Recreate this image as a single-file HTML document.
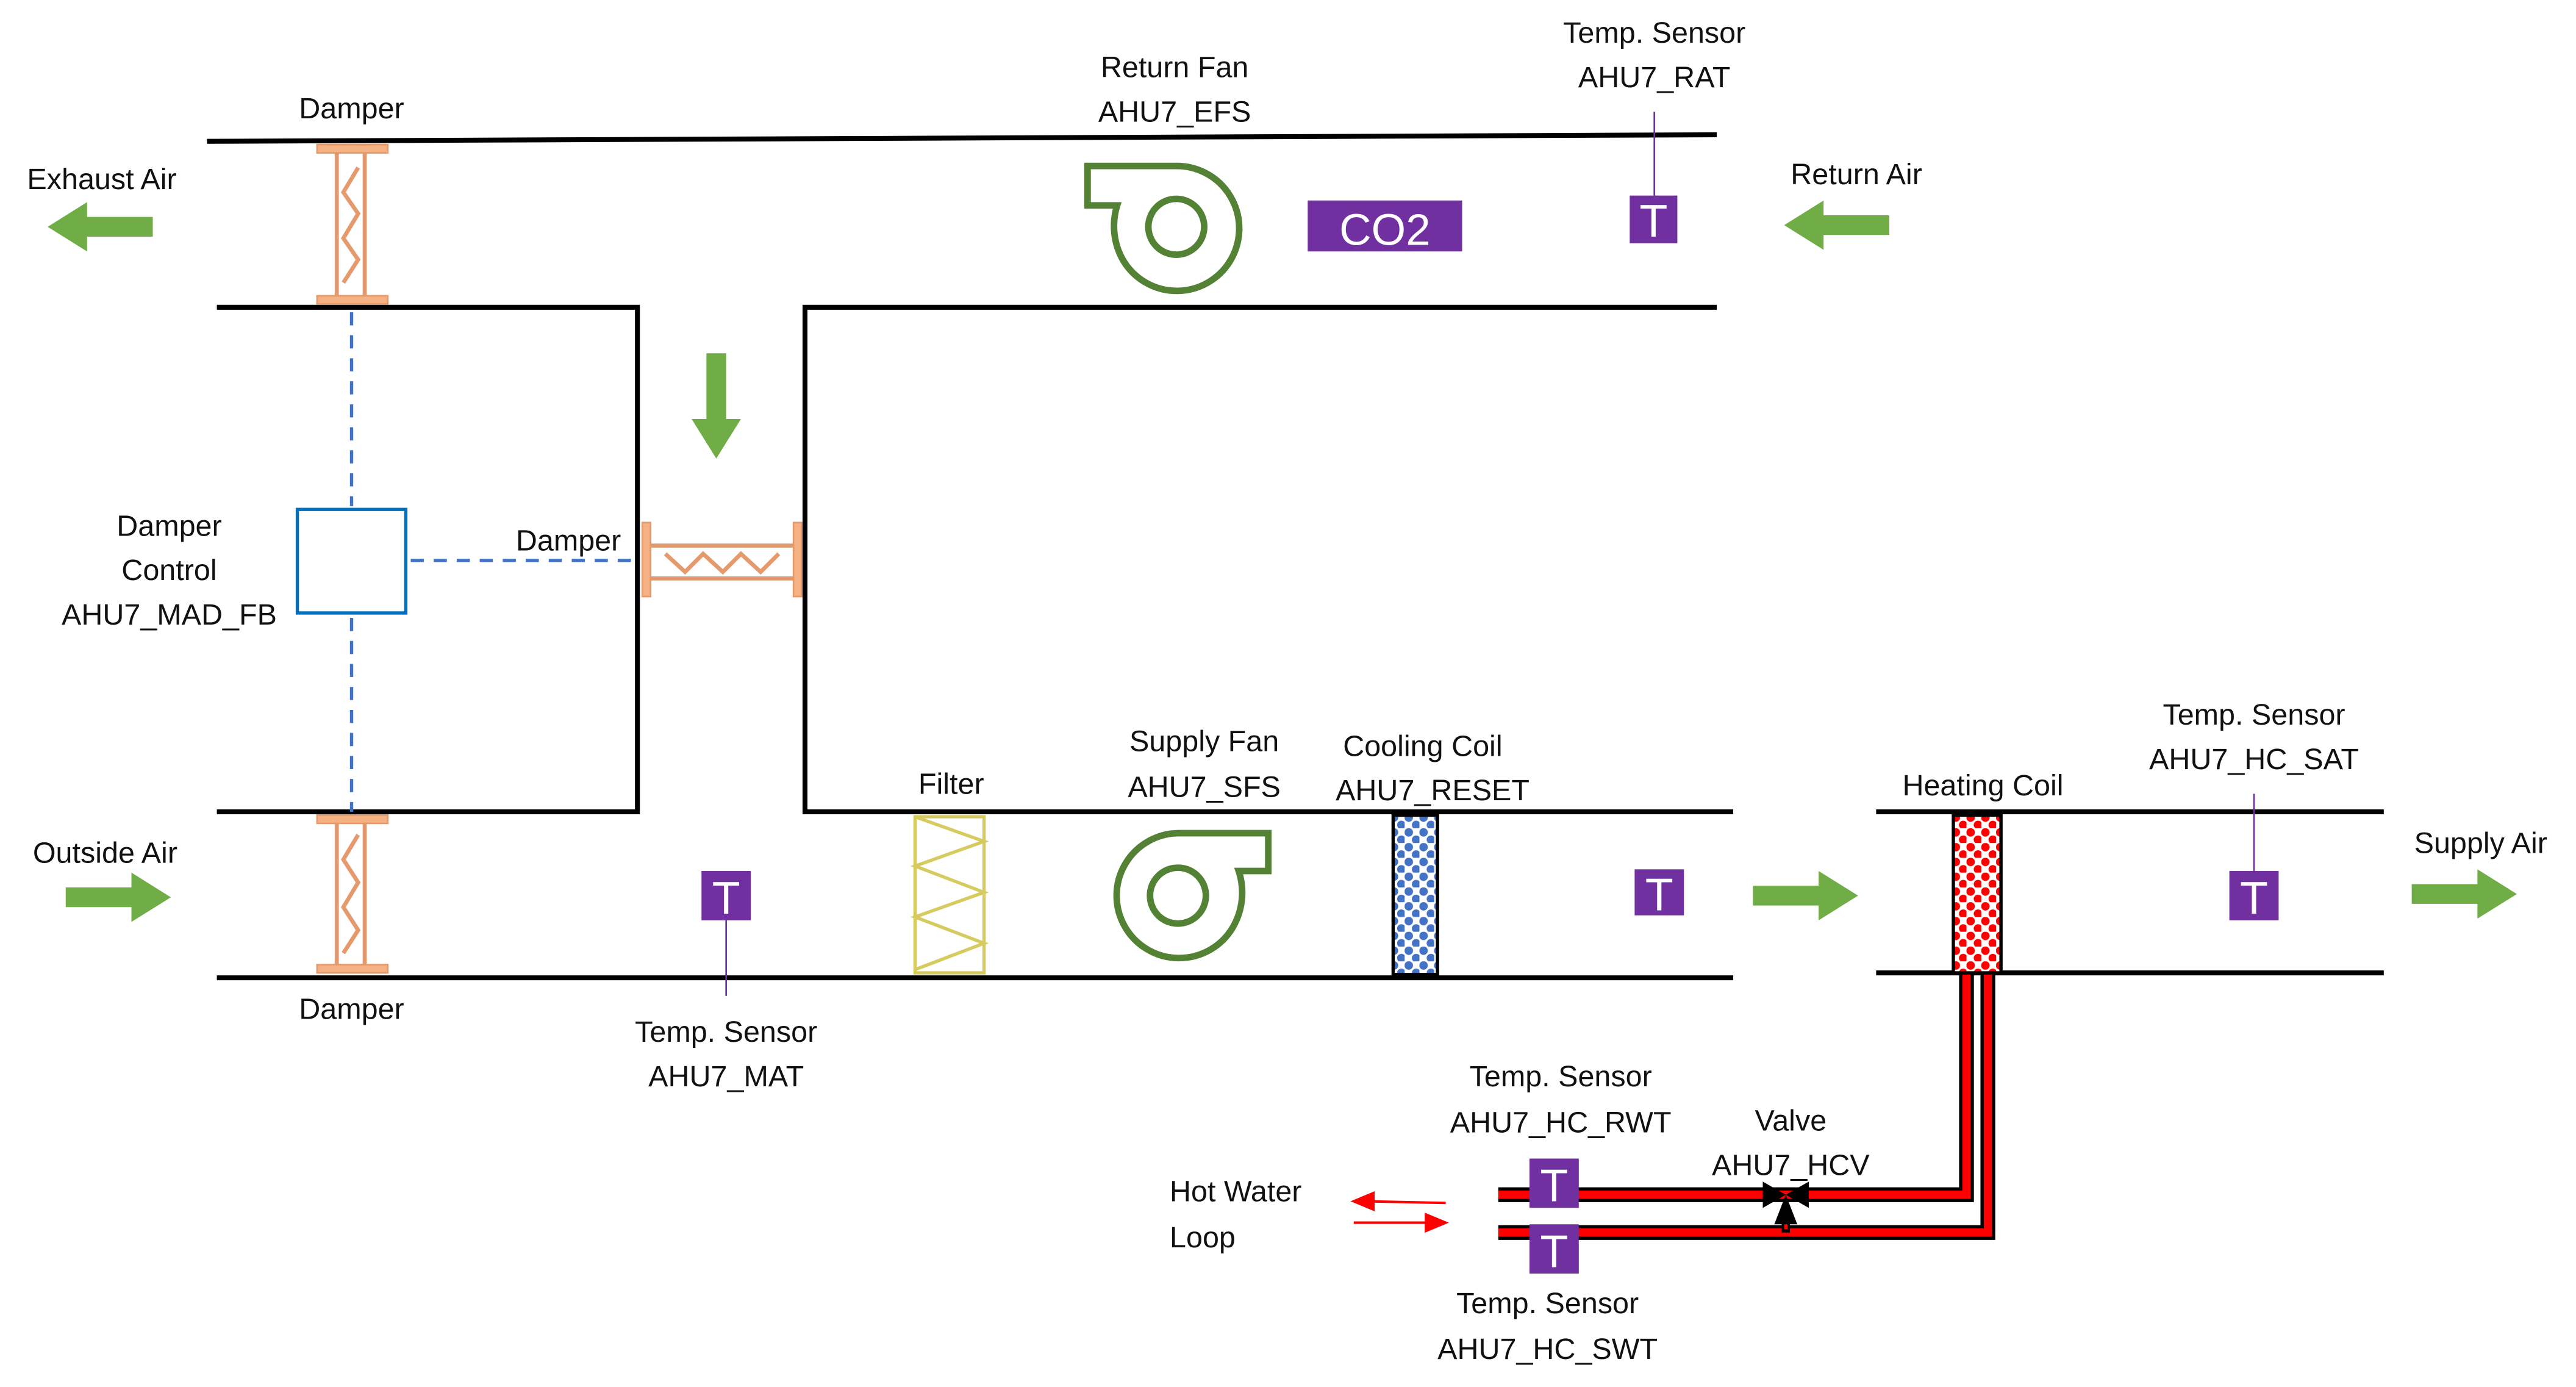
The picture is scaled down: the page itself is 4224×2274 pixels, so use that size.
<!DOCTYPE html>
<html><head><meta charset="utf-8"><style>
html,body{margin:0;padding:0;background:#fff;}
svg{display:block;}
text{font-family:"Liberation Sans",sans-serif;font-size:18px;fill:#111;}
</style></head><body>
<svg width="4224" height="2274" viewBox="0 0 1568 844" preserveAspectRatio="none" xmlns="http://www.w3.org/2000/svg">
<defs>
<pattern id="pb" width="9" height="9" patternUnits="userSpaceOnUse">
<rect width="9" height="9" fill="#fff"/><circle cx="2.5" cy="2.5" r="2.6" fill="#4472C4"/><circle cx="7" cy="7" r="2.6" fill="#4472C4"/></pattern>
<pattern id="pr" width="9" height="9" patternUnits="userSpaceOnUse">
<rect width="9" height="9" fill="#fff"/><circle cx="2.5" cy="2.5" r="2.6" fill="#FF0000"/><circle cx="7" cy="7" r="2.6" fill="#FF0000"/></pattern>
<g id="ga"><path d="M0,-6 H40 V-15 L64,0 L40,15 V6 H0 Z" fill="#70AD47"/></g>
</defs>
<rect width="1568" height="844" fill="#fff"/>
<!-- ducts -->
<g stroke="#000" stroke-width="3" fill="none">
<line x1="126" y1="86" x2="1045" y2="82"/>
<polyline points="132,187 388,187 388,494 132,494"/>
<polyline points="1045,187 490,187 490,494 1055,494"/>
<line x1="132" y1="595" x2="1055" y2="595"/>
<line x1="1142" y1="494" x2="1451" y2="494"/>
<line x1="1142" y1="592" x2="1451" y2="592"/>
</g>
<!-- dampers vertical -->
<g stroke="#F4B183" fill="none" stroke-width="2.5">
<g>
<rect x="193" y="88" width="43" height="5" fill="#F4B183" stroke="#E59A6E" stroke-width="1"/>
<rect x="193" y="180" width="43" height="5" fill="#F4B183" stroke="#E59A6E" stroke-width="1"/>
<line x1="205" y1="93" x2="205" y2="180" stroke="#E59A6E"/><line x1="222" y1="93" x2="222" y2="180" stroke="#E59A6E"/>
<polyline points="218,102 209,117 218,130 209,145 218,158 209,172" stroke="#E59A6E"/>
</g>
<g>
<rect x="193" y="496" width="43" height="5" fill="#F4B183" stroke="#E59A6E" stroke-width="1"/>
<rect x="193" y="587" width="43" height="5" fill="#F4B183" stroke="#E59A6E" stroke-width="1"/>
<line x1="205" y1="501" x2="205" y2="587" stroke="#E59A6E"/><line x1="222" y1="501" x2="222" y2="587" stroke="#E59A6E"/>
<polyline points="218,508 209,523 218,537 209,552 218,566 209,580" stroke="#E59A6E"/>
</g>
<g>
<rect x="391" y="318" width="5" height="45" fill="#F4B183" stroke="#E59A6E" stroke-width="1"/>
<rect x="483" y="318" width="5" height="45" fill="#F4B183" stroke="#E59A6E" stroke-width="1"/>
<line x1="396" y1="332" x2="483" y2="332" stroke="#E59A6E"/><line x1="396" y1="352" x2="483" y2="352" stroke="#E59A6E"/>
<polyline points="405,337 417,348 428,337 440,348 451,337 463,348 474,337" stroke="#E59A6E"/>
</g>
</g>
<!-- damper control -->
<g stroke="#4472C4" stroke-width="2" stroke-dasharray="8,6" fill="none">
<line x1="214" y1="190" x2="214" y2="308"/>
<line x1="214" y1="376" x2="214" y2="494"/>
<line x1="250" y1="341" x2="388" y2="341"/>
</g>
<rect x="181" y="310" width="66" height="63" fill="none" stroke="#0070C0" stroke-width="2"/>
<!-- arrows -->
<use href="#ga" transform="translate(93,138) scale(-1,1)"/>
<use href="#ga" transform="translate(1150,137) scale(-1,1)"/>
<use href="#ga" transform="translate(436,215) rotate(90)"/>
<use href="#ga" transform="translate(40,546)"/>
<use href="#ga" transform="translate(1067,545)"/>
<use href="#ga" transform="translate(1468,544)"/>
<!-- fans -->
<path d="M662,101 H716 A38,38 0 1,1 684,159 A42,42 0 0,1 680,125 H662 Z" fill="none" stroke="#548235" stroke-width="4"/>
<circle cx="716" cy="138" r="17" fill="none" stroke="#548235" stroke-width="4"/>
<path d="M772,507 H717 A38,38 0 1,0 750,565 A42,42 0 0,0 754,530 H772 Z" fill="none" stroke="#548235" stroke-width="4"/>
<circle cx="717" cy="545" r="17" fill="none" stroke="#548235" stroke-width="4"/>
<!-- CO2 -->
<rect x="796" y="122" width="94" height="31" fill="#7030A0"/>
<text x="843" y="149" text-anchor="middle" style="fill:#fff;font-size:27px">CO2</text>
<!-- filter -->
<g stroke="#D6CB5E" stroke-width="2" fill="none">
<rect x="557" y="497" width="42" height="95"/>
<polyline points="557,497 599,512 557,527 599,543 557,558 599,574 557,590"/>
</g>
<!-- coils -->
<rect x="848" y="496" width="27" height="97" fill="url(#pb)" stroke="#000" stroke-width="2"/>
<!-- pipes -->
<g fill="none" stroke-linejoin="miter">
<polyline points="1197,593 1197,727 912,727" stroke="#000" stroke-width="9"/>
<polyline points="1210,593 1210,750 912,750" stroke="#000" stroke-width="9"/>
<polyline points="1197,593 1197,727 912,727" stroke="#FF0000" stroke-width="5"/>
<polyline points="1210,593 1210,750 912,750" stroke="#FF0000" stroke-width="5"/>
<line x1="1087" y1="735" x2="1087" y2="750" stroke="#000" stroke-width="5"/>
<line x1="1087" y1="736" x2="1087" y2="748" stroke="#FF0000" stroke-width="2"/>
</g>
<rect x="1189" y="496" width="29" height="96" fill="url(#pr)" stroke="#000" stroke-width="2"/>
<path d="M1073,719 L1101,735 V719 L1073,735 Z" fill="#000"/>
<path d="M1080,745 L1087,727 L1094,745 Z" fill="#000"/>
<!-- hot water arrows -->
<g stroke="#FF0000" stroke-width="1.5" fill="#FF0000">
<line x1="832" y1="731" x2="880" y2="732"/><path d="M824,731 L836,726 L836,736 Z"/>
<line x1="824" y1="744" x2="870" y2="744"/><path d="M880,744 L868,739 L868,749 Z"/>
</g>
<!-- sensor lines -->
<g stroke="#7030A0" stroke-width="1">
<line x1="1007" y1="68" x2="1007" y2="120"/>
<line x1="442" y1="560" x2="442" y2="606"/>
<line x1="1372" y1="483" x2="1372" y2="530"/>
</g>
<!-- T boxes -->
<g fill="#7030A0">
<rect x="992" y="119" width="29" height="29"/>
<rect x="427" y="530" width="30" height="30"/>
<rect x="995" y="529" width="30" height="28"/>
<rect x="1357" y="530" width="30" height="30"/>
<rect x="931" y="705" width="30" height="30"/>
<rect x="931" y="745" width="30" height="30"/>
</g>
<g style="fill:#fff;font-size:28px" text-anchor="middle">
<text x="1006.5" y="144" style="fill:#fff;font-size:28px">T</text>
<text x="442" y="556" style="fill:#fff;font-size:28px">T</text>
<text x="1010" y="554" style="fill:#fff;font-size:28px">T</text>
<text x="1372" y="556" style="fill:#fff;font-size:28px">T</text>
<text x="946" y="731" style="fill:#fff;font-size:28px">T</text>
<text x="946" y="771" style="fill:#fff;font-size:28px">T</text>
</g>
<!-- labels -->
<g text-anchor="middle">
<text x="214" y="72">Damper</text>
<text x="62" y="115">Exhaust Air</text>
<text x="715" y="47">Return Fan</text>
<text x="715" y="74">AHU7_EFS</text>
<text x="1007" y="26">Temp. Sensor</text>
<text x="1007" y="53">AHU7_RAT</text>
<text x="1130" y="112">Return Air</text>
<text x="103" y="326">Damper</text>
<text x="103" y="353">Control</text>
<text x="103" y="380">AHU7_MAD_FB</text>
<text x="346" y="335">Damper</text>
<text x="64" y="525">Outside Air</text>
<text x="214" y="620">Damper</text>
<text x="442" y="634">Temp. Sensor</text>
<text x="442" y="661">AHU7_MAT</text>
<text x="579" y="483">Filter</text>
<text x="733" y="457">Supply Fan</text>
<text x="733" y="485">AHU7_SFS</text>
<text x="866" y="460" >Cooling Coil</text>
<text x="872" y="487">AHU7_RESET</text>
<text x="1207" y="484">Heating Coil</text>
<text x="1372" y="441">Temp. Sensor</text>
<text x="1372" y="468">AHU7_HC_SAT</text>
<text x="1510" y="519">Supply Air</text>
<text x="950" y="661">Temp. Sensor</text>
<text x="950" y="689">AHU7_HC_RWT</text>
<text x="1090" y="688">Valve</text>
<text x="1090" y="715">AHU7_HCV</text>
<text x="942" y="799">Temp. Sensor</text>
<text x="942" y="827">AHU7_HC_SWT</text>
</g>
<text x="712" y="731">Hot Water</text>
<text x="712" y="759">Loop</text>
</svg>
</body></html>
